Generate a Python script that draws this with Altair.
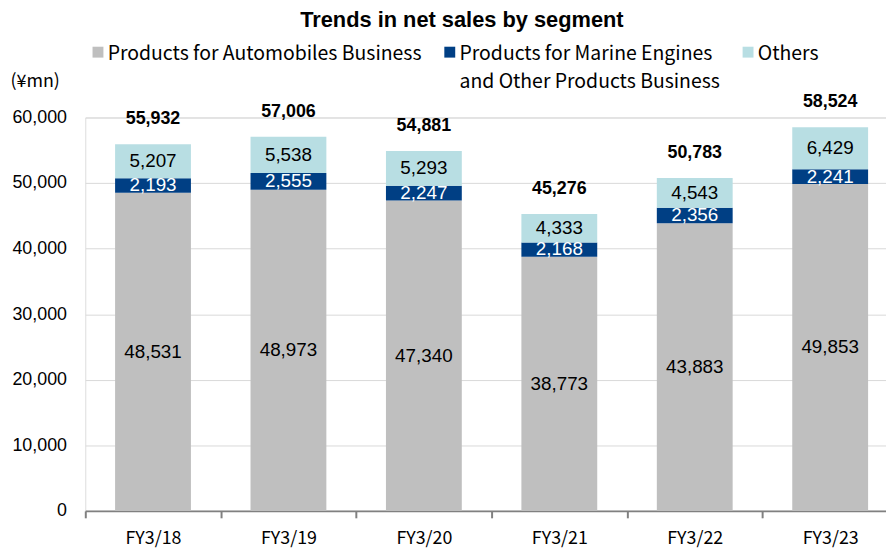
import altair as alt
import pandas as pd

years = ["FY3/18", "FY3/19", "FY3/20", "FY3/21", "FY3/22", "FY3/23"]
segments = [
    "Products for Automobiles Business",
    "Products for Marine Engines and Other Products Business",
    "Others",
]
auto = [48531, 48973, 47340, 38773, 43883, 49853]
marine = [2193, 2555, 2247, 2168, 2356, 2241]
others = [5207, 5538, 5293, 4333, 4543, 6429]
totals = [55932, 57006, 54881, 45276, 50783, 58524]
y_ticks = [0, 10000, 20000, 30000, 40000, 50000, 60000]
colors = ["#bfbfbf", "#003f84", "#b8dee3"]

rows = []
for i, yr in enumerate(years):
    for k, (seg, vals) in enumerate(zip(segments, [auto, marine, others])):
        rows.append({"year": yr, "segment": seg, "value": vals[i], "order": k})
df = pd.DataFrame(rows)
tot_df = pd.DataFrame({"year": years, "total": totals})

# the reference's category axis runs slightly past the right edge of the picture
x_scale = alt.Scale(paddingInner=0, paddingOuter=0, range=[0, 820])

x_enc = alt.X(
    "year:N",
    sort=years,
    title=None,
    scale=x_scale,
    axis=alt.Axis(
        labelAngle=0,
        tickBand="extent",
        domainColor="#808080",
        domainWidth=2,
        tickColor="#808080",
        tickWidth=2,
        tickSize=7,
        labelFont="Noto Sans CJK JP",
        labelFontSize=18,
        labelColor="#000000",
        labelPadding=12,
        grid=False,
    ),
)

y_scale = alt.Scale(domain=[0, 60000])

base = (
    alt.Chart(df)
    .transform_stack(
        stack="value",
        groupby=["year"],
        as_=["y0", "y1"],
        sort=[alt.SortField("order", "ascending")],
    )
    .transform_calculate(mid="(datum.y0 + datum.y1) / 2")
)

legend = alt.Legend(
    title=None,
    orient="none",
    legendX=3,
    legendY=-74,
    direction="horizontal",
    columns=3,
    symbolType="M-1,-1.364H1V0.636H-1Z",
    symbolSize=121,
    symbolStrokeWidth=0,
    labelOffset=0,
    columnPadding=18,
    labelFont="Noto Sans CJK JP",
    labelFontSize=19.6,
    labelColor="#000000",
    labelLimit=1000,
    labelBaseline="middle",
    labelExpr="datum.label == 'Products for Marine Engines and Other Products Business' ? ['Products for Marine Engines', 'and Other Products Business'] : [datum.label, '']",
)

bars = base.mark_bar(width=alt.RelativeBandSize(0.56)).encode(
    x=x_enc,
    y=alt.Y(
        "y0:Q",
        scale=y_scale,
        axis=alt.Axis(
            values=y_ticks,
            format=",d",
            title="(¥mn)",
            titleAngle=0,
            titleAlign="left",
            titleBaseline="middle",
            titleX=-76,
            titleY=-36,
            titleFont="Noto Sans CJK JP",
            titleFontSize=18,
            titleFontWeight="normal",
            titleColor="#000000",
            labelFont="Liberation Sans",
            labelFontSize=18,
            labelColor="#000000",
            labelPadding=19,
            domain=False,
            ticks=False,
            grid=True,
            gridColor="#d9d9d9",
            gridWidth=1,
        ),
    ),
    y2="y1:Q",
    color=alt.Color(
        "segment:N",
        scale=alt.Scale(domain=segments, range=colors),
        legend=legend,
    ),
)

seg_text = base.mark_text(
    font="Liberation Sans", fontSize=19, baseline="middle"
).encode(
    x=alt.X("year:N", sort=years, scale=x_scale),
    y=alt.Y("mid:Q", scale=y_scale),
    text=alt.Text("value:Q", format=","),
    color=alt.condition("datum.order == 1", alt.value("#ffffff"), alt.value("#000000")),
)

tot_text = alt.Chart(tot_df).mark_text(
    font="Liberation Sans", fontSize=18, fontWeight="bold", baseline="middle", dy=-25, color="#000000"
).encode(
    x=alt.X("year:N", sort=years, scale=x_scale),
    y=alt.Y("total:Q", scale=y_scale),
    text=alt.Text("total:Q", format=","),
)

chart = (
    alt.layer(bars, seg_text, tot_text)
    .properties(
        width=808,
        height=397,
        title=alt.Title(
            "Trends in net sales by segment",
            font="Liberation Sans",
            fontSize=22,
            fontWeight="bold",
            color="#000000",
            anchor="middle",
            dx=-24,
            offset=12,
        ),
        autosize=alt.AutoSizeParams(type="none"),
        padding={"left": 78, "top": 108, "right": 0, "bottom": 36},
        background="#ffffff",
    )
    .configure_view(stroke=None)
    .configure(style={"guide-label": {"lineHeight": 28}})
)

chart.save("out.html", embed_options={"renderer": "svg", "actions": False})
